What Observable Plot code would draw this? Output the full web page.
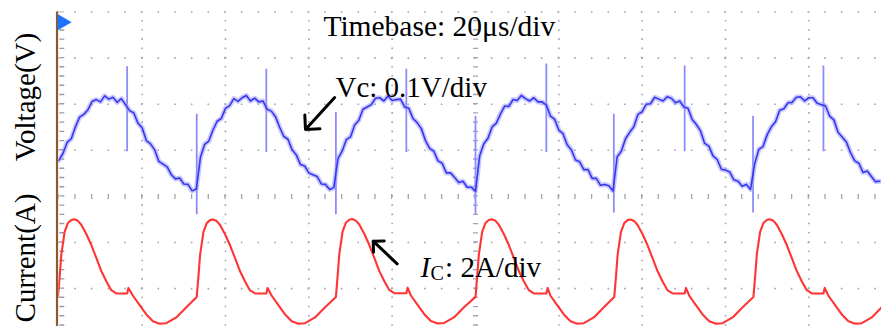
<!DOCTYPE html>
<html><head><meta charset="utf-8">
<script src="https://cdn.jsdelivr.net/npm/d3@7"></script>
<script src="https://cdn.jsdelivr.net/npm/@observablehq/plot@0.6"></script>
<style>
html,body{margin:0;padding:0;background:#fff;overflow:hidden;}
#chart svg{display:block;overflow:hidden;}
</style></head><body><div id="chart"></div>
<script>
// ---- channel settings (read from the annotations) ----
const voltsPerDiv = 0.1;      // Vc: 0.1V/div
const ampsPerDiv = 2;         // Ic: 2A/div
const currentRefDiv = -2;     // current zero level (graticule row)
const sampleStepUs = 1;       // voltage sample spacing, μs

// ---- Vc samples (V, relative to centre line), one per μs from t = 0 ----
const voltageSamples = [
  0.078,0.093,0.117,0.125,0.151,0.172,0.178,0.188,0.206,0.210,0.205,0.218,0.211,0.215,0.204,0.212,0.199,0.186,0.181,0.159,0.149,0.121,0.114,0.101,0.076,0.070,0.064,0.047,0.038,0.040,0.027,0.026,0.012,0.016,
  0.085,0.113,0.120,0.144,0.163,0.169,0.191,0.197,0.212,0.206,0.214,0.219,0.207,0.213,0.205,0.207,0.189,0.185,0.173,0.150,0.130,0.124,0.101,0.090,0.069,0.066,0.051,0.047,0.043,0.027,0.026,0.015,0.019,
  0.082,0.098,0.123,0.129,0.155,0.165,0.189,0.194,0.199,0.213,0.214,0.207,0.218,0.208,0.210,0.211,0.194,0.191,0.169,0.160,0.147,0.121,0.104,0.098,0.077,0.072,0.051,0.051,0.041,0.030,0.033,0.020,0.020,0.011,
  0.088,0.114,0.126,0.151,0.159,0.179,0.196,0.195,0.210,0.208,0.219,0.212,0.207,0.214,0.205,0.205,0.198,0.174,0.167,0.144,0.136,0.112,0.101,0.079,0.075,0.058,0.058,0.039,0.039,0.024,0.026,0.023,0.012,
  0.086,0.098,0.125,0.139,0.151,0.178,0.184,0.200,0.201,0.215,0.211,0.207,0.216,0.213,0.203,0.207,0.194,0.191,0.167,0.156,0.142,0.115,0.109,0.088,0.080,0.059,0.057,0.053,0.036,0.033,0.022,0.026,0.015,
  0.071,0.102,0.108,0.134,0.151,0.162,0.187,0.190,0.203,0.204,0.215,0.216,0.207,0.214,0.214,0.202,0.199,0.196,0.174,0.166,0.139,0.129,0.118,0.095,0.077,0.072,0.052,0.055,0.043,0.032,0.033
];

// ---- switching spikes on Vc ----
const spikeDownTimeUs = [16.4, 49.8, 83.4, 117.0, 150.2, 183.5];
const spikeDownTopV   = [0.281, 0.276, 0.276, 0.287, 0.283, 0.283];
const spikeDownBotV   = [0.097, 0.095, 0.095, 0.095, 0.097, 0.097];
const spikeUpTimeUs   = [33.1, 66.5, 100.0, 133.2, 166.6];
const spikeUpTopV     = [0.178, 0.182, 0.174, 0.178, 0.174];
const spikeUpBotV     = [-0.040, -0.040, -0.040, -0.036, -0.036];

// ---- Ic trace (time μs, current A) ----
const currentTimeUs = [
  -0.2,0.2,0.6,1.4,2.2,3.0,3.7,4.6,5.4,6.6,7.8,9.0,10.2,11.4,12.6,13.8,16.4,16.7,17.8,19.4,21.0,22.6,24.2,25.8,28.2,30.6,
  33.1,33.5,33.9,34.7,35.5,36.3,37.0,37.9,38.7,39.9,41.1,42.3,43.5,44.7,45.9,47.1,49.8,50.1,51.1,52.7,54.3,55.9,57.5,59.1,61.5,63.9,
  66.5,66.9,67.3,68.1,68.9,69.7,70.4,71.3,72.1,73.3,74.5,75.7,76.9,78.1,79.3,80.5,83.4,83.7,84.5,86.1,87.7,89.3,90.9,92.5,94.9,97.3,
  100.0,100.4,100.8,101.6,102.4,103.2,103.9,104.8,105.6,106.8,108.0,109.2,110.4,111.6,112.8,114.0,117.0,117.3,118.0,119.6,121.2,122.8,124.4,126.0,128.4,130.8,
  133.3,133.7,134.1,134.9,135.7,136.5,137.2,138.1,138.9,140.1,141.3,142.5,143.7,144.9,146.1,147.3,150.2,150.5,151.3,152.9,154.5,156.1,157.7,159.3,161.7,164.1,
  166.7,167.1,167.5,168.3,169.1,169.9,170.6,171.5,172.3,173.5,174.7,175.9,177.1,178.3,179.5,180.7,183.5,183.8,184.7,186.3,187.9,189.5,191.1,192.7,195.1,197.5
];
const currentAmps = [
  -0.36,0.51,1.46,2.46,2.85,2.98,3.01,2.94,2.77,2.37,1.89,1.33,0.76,0.32,-0.07,-0.21,-0.21,0.03,-0.31,-0.72,-1.12,-1.42,-1.52,-1.50,-1.25,-0.81,
  -0.36,0.50,1.45,2.45,2.84,2.97,3.00,2.93,2.76,2.36,1.88,1.32,0.75,0.31,-0.08,-0.21,-0.21,0.03,-0.31,-0.72,-1.12,-1.42,-1.52,-1.50,-1.25,-0.81,
  -0.36,0.52,1.47,2.47,2.86,2.99,3.02,2.95,2.78,2.38,1.90,1.34,0.77,0.33,-0.06,-0.20,-0.20,0.04,-0.30,-0.71,-1.11,-1.41,-1.51,-1.49,-1.24,-0.80,
  -0.36,0.51,1.46,2.46,2.85,2.98,3.01,2.94,2.77,2.37,1.89,1.33,0.76,0.32,-0.07,-0.21,-0.21,0.03,-0.31,-0.72,-1.12,-1.42,-1.52,-1.50,-1.25,-0.81,
  -0.36,0.50,1.45,2.45,2.84,2.97,3.00,2.93,2.76,2.36,1.88,1.32,0.75,0.31,-0.08,-0.21,-0.21,0.03,-0.31,-0.72,-1.12,-1.42,-1.52,-1.50,-1.25,-0.81,
  -0.36,0.51,1.46,2.46,2.85,2.98,3.01,2.94,2.77,2.37,1.89,1.33,0.76,0.32,-0.07,-0.21,-0.21,0.03,-0.31,-0.72,-1.12,-1.42,-1.52,-1.50,-1.25,-0.81
];

// ---- graticule (divisions) ----
const timeGridUs = [20, 40, 60, 80, 120, 140, 160, 180];
const centreTimeUs = [100];
const rowGridDiv = [-3, -2, -1, 1, 2, 3, 4];
const centreRowDiv = [0];

// ---- annotations ----
const titleText = "Timebase: 20μs/div";
const vLabelText = "Vc: 0.1V/div";
const iLabelMain = "I", iLabelSub = "C", iLabelRest = ": 2A/div";
const axisLabels = ["Voltage(V)", "Current(A)"];

const volt = voltageSamples.map((v, i) => ({t: i * sampleStepUs, d: v / voltsPerDiv}));
const curr = currentTimeUs.map((t, i) => ({t, d: currentAmps[i] / ampsPerDiv + currentRefDiv}));
const spikes = [
  ...spikeDownTimeUs.map((t, i) => ({t, a: spikeDownTopV[i] / voltsPerDiv, b: spikeDownBotV[i] / voltsPerDiv})),
  ...spikeUpTimeUs.map((t, i) => ({t, a: spikeUpTopV[i] / voltsPerDiv, b: spikeUpBotV[i] / voltsPerDiv}))
];

const font = "Liberation Serif";
const gridColor = "#a3a3b3";

const chart = Plot.plot({
  width: 881, height: 326,
  marginLeft: 58.3, marginRight: -10.7, marginTop: 11.5, marginBottom: -54.3,
  x: {domain: [0, 200], axis: null},
  y: {domain: [-4, 4], axis: null},
  style: {background: "#fff", fontFamily: font, overflow: "hidden"},
  marks: [
    Plot.ruleY(rowGridDiv, {stroke: gridColor, strokeWidth: 1.6, strokeDasharray: "1.6 15.067", strokeDashoffset: 0.8}),
    Plot.ruleX(timeGridUs, {stroke: gridColor, strokeWidth: 1.6, strokeDasharray: "1.6 7.62", strokeDashoffset: 0.8}),
    Plot.ruleY(centreRowDiv, {stroke: gridColor, strokeWidth: 5, strokeDasharray: "1.3 15.367", strokeDashoffset: 0.65}),
    Plot.ruleX(centreTimeUs, {stroke: gridColor, strokeWidth: 5, strokeDasharray: "1.3 7.92", strokeDashoffset: 0.65}),
    Plot.ruleX([0], {dx: 3, stroke: "#9a9aa8", strokeWidth: 5, strokeDasharray: "1.4 7.82", strokeDashoffset: 0.7}),
    Plot.ruleX([0], {dx: -1.8, stroke: "#8a5a2c", strokeWidth: 2.2}),
    Plot.dot([{t: 0, d: 3.78}], {x: "t", y: "d", dx: 3.5, symbol: "triangle", rotate: 90, r: 6, fill: "#1f72ff", stroke: "none"}),
    Plot.line(curr, {x: "t", y: "d", stroke: "#ff3434", strokeWidth: 2.1, clip: true}),
    Plot.ruleX(spikes, {x: "t", y1: "a", y2: "b", stroke: "#8c8cff", strokeWidth: 1.8, clip: true}),
    Plot.line(volt, {x: "t", y: "d", stroke: "#9c9cff", strokeWidth: 5, strokeOpacity: 0.55, clip: true}),
    Plot.line(volt, {x: "t", y: "d", stroke: "#3636ee", strokeWidth: 1.6, clip: true}),
    Plot.text([titleText], {x: 63.5, y: 3.49, text: d => d, textAnchor: "start", lineAnchor: "bottom", fontSize: 29.5, fontFamily: font, fill: "#000"}),
    Plot.text([vLabelText], {x: 66.4, y: 2.152, text: d => d, textAnchor: "start", lineAnchor: "bottom", fontSize: 29, fontFamily: font, fill: "#000"}),
    Plot.text([iLabelMain], {x: 86.8, y: -1.738, text: d => d, textAnchor: "start", lineAnchor: "bottom", fontSize: 29, fontStyle: "italic", fontFamily: font, fill: "#000"}),
    Plot.text([iLabelSub], {x: 89.2, y: -1.803, text: d => d, textAnchor: "start", lineAnchor: "bottom", fontSize: 20, fontFamily: font, fill: "#000"}),
    Plot.text([iLabelRest], {x: 92.7, y: -1.738, text: d => d, textAnchor: "start", lineAnchor: "bottom", fontSize: 29, fontFamily: font, fill: "#000"}),
    Plot.text(axisLabels, {x: -5.6, y: [2.156, -1.336], text: d => d, rotate: -90, textAnchor: "middle", lineAnchor: "bottom", fontSize: 29, fontFamily: font, fill: "#000"}),
    Plot.arrow([{x1: 66.2, y1: 2.145, x2: 59.2, y2: 1.451}, {x1: 81.2, y1: -1.462, x2: 75.45, y2: -0.972}],
      {x1: "x1", y1: "y1", x2: "x2", y2: "y2", stroke: "#000", strokeWidth: 3, headAngle: 90, headLength: 8})
  ]
});
document.getElementById("chart").append(chart);
</script></body></html>
